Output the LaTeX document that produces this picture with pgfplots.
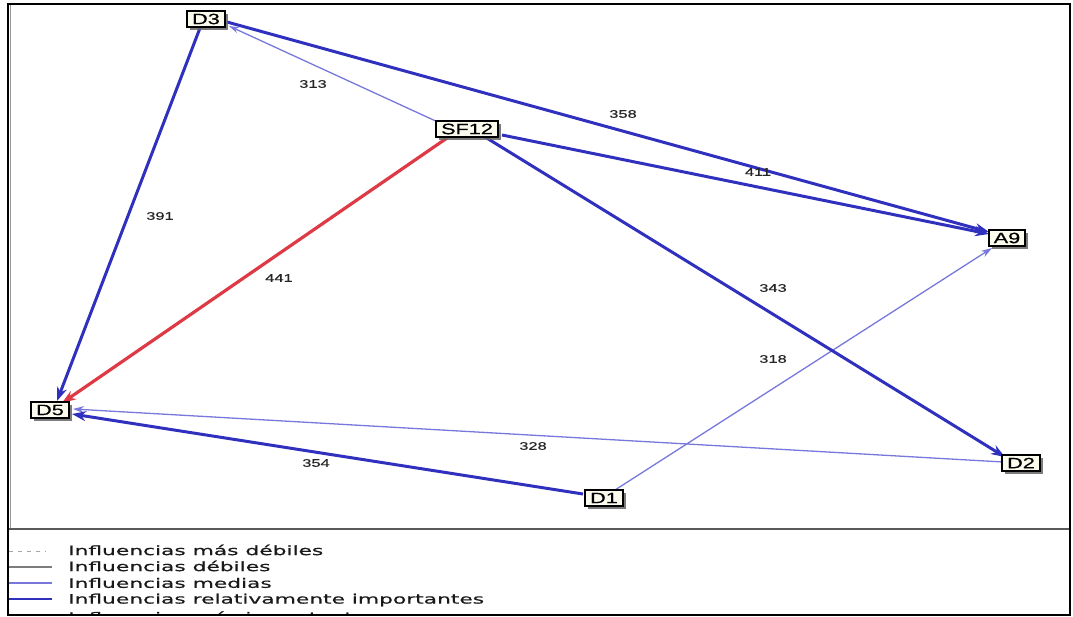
\documentclass[border=0pt]{standalone}
\usepackage{pgfplots}
\pgfplotsset{compat=1.18}
\usepackage{pgfplotstable}
\usepackage{fontspec}
\setmainfont{Liberation Sans}
\newfontfamily\nodefont[FakeStretch=1.45,FakeBold=0.6]{Liberation Sans}
\newfontfamily\edgefont[FakeStretch=1.5,FakeBold=0.4]{Liberation Sans}
\newfontfamily\legfont[FakeStretch=1.68,FakeBold=0.5]{DejaVu Sans}
\usetikzlibrary{arrows.meta,shadows}
\definecolor{strongblue}{RGB}{48,48,190}
\definecolor{medblue}{RGB}{120,120,220}
\definecolor{weakgray}{RGB}{125,125,125}
\definecolor{topred}{RGB}{222,58,70}
\definecolor{boxfill}{RGB}{252,252,238}
\definecolor{framegray}{RGB}{90,90,90}

% node positions (pixel coordinates, y downwards)
\pgfplotstableread{
x y label
206 19 D3
467 129 SF12
1007 238 A9
50 410 D5
1021 463 D2
604 498 D1
}\nodetable

% influence values and label positions
\pgfplotstableread{
x y label
313 84 313
623 114 358
758 172 411
160 216 391
279 278 441
773 288 343
773 359 318
533 446 328
316 463 354
}\edgetable

\begin{document}
\begin{tikzpicture}
\useasboundingbox (0,0) rectangle (1073bp,617bp);
\begin{axis}[
  at={(0,0)}, anchor=south west,
  scale only axis, width=1073bp, height=617bp,
  xmin=0, xmax=1073, ymin=0, ymax=617,
  y dir=reverse, hide axis, clip=false,
]
% background
\fill[white] (axis cs:0,0) rectangle (axis cs:1073,617);

% edges: medium influences (thin)
\addplot[medblue, line width=1.3pt, -{Stealth[length=10pt,width=6pt]}] coordinates {(440,123) (229,26)};   % SF12 -> D3  313
\addplot[medblue, line width=1.3pt, -{Stealth[length=11pt,width=7pt]}] coordinates {(615,490) (992,248)};  % D1 -> A9  318
\addplot[medblue, line width=1.3pt, -{Stealth[length=11pt,width=7pt]}] coordinates {(1003,462) (73,409)};  % D2 -> D5  328

% edges: relatively important influences (thick)
\addplot[strongblue, line width=3pt, -{Stealth[length=14pt,width=10pt]}] coordinates {(200,28) (57,401)};   % D3 -> D5   391
\addplot[strongblue, line width=3pt, -{Stealth[length=14pt,width=10pt]}] coordinates {(227,22) (989,232)};  % D3 -> A9   358
\addplot[strongblue, line width=3pt, -{Stealth[length=14pt,width=10pt]}] coordinates {(502,135) (989,234)};  % SF12 -> A9 411
\addplot[strongblue, line width=3pt, -{Stealth[length=14pt,width=10pt]}] coordinates {(485,137) (1005,457)}; % SF12 -> D2 343
\addplot[strongblue, line width=3pt, -{Stealth[length=14pt,width=10pt]}] coordinates {(583,494) (72,414)};   % D1 -> D5   354

% edge: most important influence (red)
\addplot[topred, line width=3.2pt, -{Stealth[length=14pt,width=10pt]}] coordinates {(447,138) (62,403)};  % SF12 -> D5 441

% edge labels
\addplot[draw=none, mark=none, nodes near coords, point meta=explicit symbolic,
  every node near coord/.style={anchor=center, text=black!85, font=\edgefont\fontsize{11}{11}\selectfont, inner sep=0pt}]
  table[meta=label]{\edgetable};

% variable boxes
\addplot[draw=none, mark=none, nodes near coords, point meta=explicit symbolic,
  every node near coord/.style={anchor=center, text=black, draw=black, line width=2pt, fill=boxfill,
    inner xsep=5pt, inner ysep=2.5pt, font=\nodefont\fontsize{15}{15}\selectfont,
    drop shadow={shadow xshift=3pt, shadow yshift=-3pt, fill=black!60, opacity=0.85}}]
  table[meta=label]{\nodetable};

% legend samples
\addplot[black!35, line width=1pt, dash pattern=on 4pt off 5pt] coordinates {(9,551) (45,551)};
\addplot[weakgray, line width=1.3pt] coordinates {(9,567) (52,567)};
\addplot[medblue, line width=1.3pt] coordinates {(9,583) (52,583)};
\addplot[strongblue, line width=2.4pt] coordinates {(9,599) (52,599)};
\addplot[topred, line width=2.8pt] coordinates {(9,616) (52,616)};

\node[anchor=west, inner sep=0pt, text=black!90, font=\legfont\fontsize{13}{13}\selectfont] at (axis cs:68,550) {Influencias más débiles};
\node[anchor=west, inner sep=0pt, text=black!90, font=\legfont\fontsize{13}{13}\selectfont] at (axis cs:68,566) {Influencias débiles};
\node[anchor=west, inner sep=0pt, text=black!90, font=\legfont\fontsize{13}{13}\selectfont] at (axis cs:68,583) {Influencias medias};
\node[anchor=west, inner sep=0pt, text=black!90, font=\legfont\fontsize{13}{13}\selectfont] at (axis cs:68,600) {Influencias relativamente importantes};
\node[anchor=west, inner sep=0pt, text=black!90, font=\legfont\fontsize{13}{13}\selectfont] at (axis cs:68,618) {Influencias más importantes};

% cut-off strip and frame
\fill[white] (axis cs:0,616) rectangle (axis cs:1073,617);
\draw[framegray, line width=2pt] (axis cs:8,529) -- (axis cs:1070,529);
\draw[black!40, line width=0.8pt] (axis cs:10.5,5) -- (axis cs:10.5,528);
\draw[black, line width=2.8pt] (axis cs:8,4) rectangle (axis cs:1070,615);
\end{axis}
\end{tikzpicture}
\end{document}
